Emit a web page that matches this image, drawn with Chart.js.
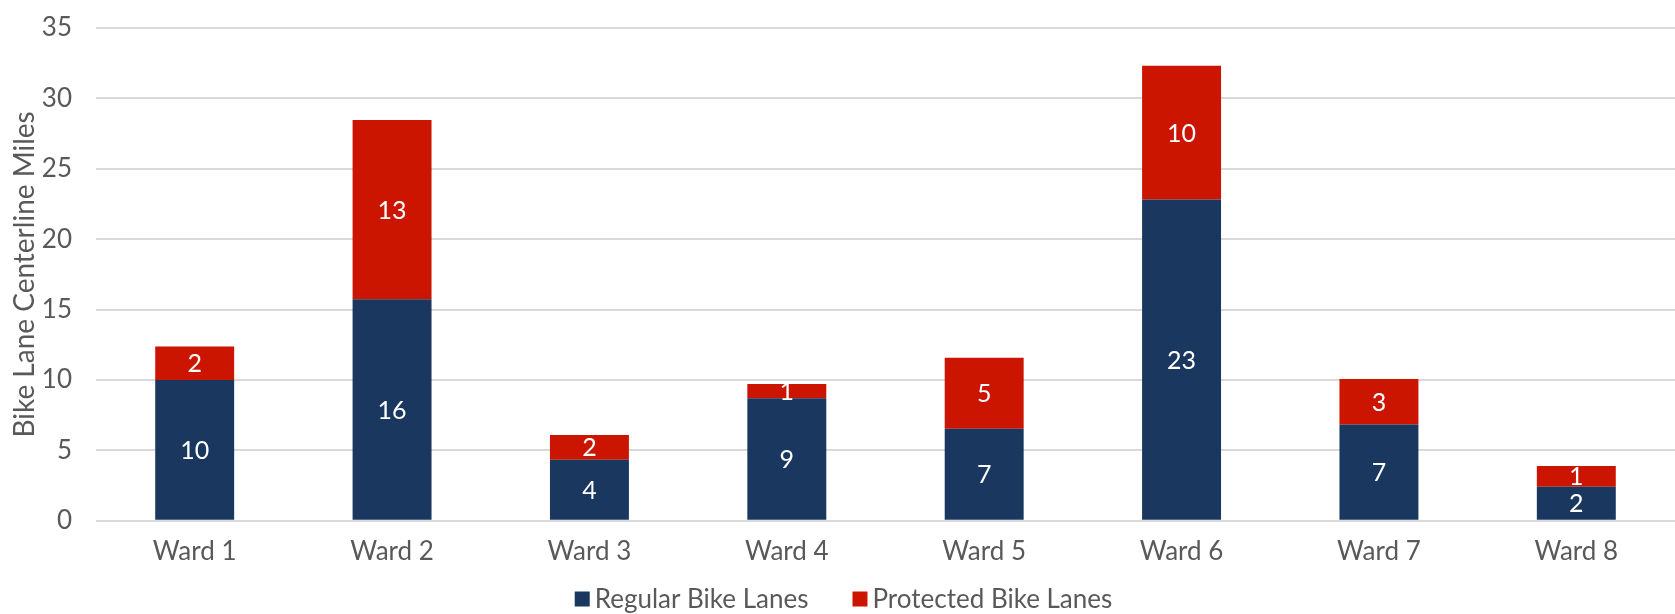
<!DOCTYPE html>
<html>
<head>
<meta charset="utf-8">
<script src="https://cdn.jsdelivr.net/npm/chart.js@4"></script>
<style>
  html, body { margin: 0; padding: 0; background: #fff; }
  #wrap { width: 1675px; height: 614px; }
</style>
</head>
<body>
<div id="wrap"><canvas id="myChart"></canvas></div>
<script>
const wards = ["Ward 1", "Ward 2", "Ward 3", "Ward 4", "Ward 5", "Ward 6", "Ward 7", "Ward 8"];
const regularMiles = [10.0, 15.73, 4.33, 8.71, 6.53, 22.82, 6.84, 2.42];
const protectedMiles = [2.38, 12.74, 1.77, 1.0, 5.05, 9.5, 3.23, 1.48];
const yTicks = [0, 5, 10, 15, 20, 25, 30, 35];

const textGray = "#595959";
const fontFamily = "Lato, 'Noto Sans', sans-serif";

// white rounded numbers centred in each bar segment
const segmentLabels = {
    id: "segmentLabels",
    afterDatasetsDraw(chart) {
        const ctx = chart.ctx;
        ctx.save();
        ctx.fillStyle = "#fff";
        ctx.font = "25px " + fontFamily;
        ctx.textAlign = "center";
        ctx.textBaseline = "middle";
        chart.data.datasets.forEach((ds, i) => {
            chart.getDatasetMeta(i).data.forEach((bar, j) => {
                const mid = (bar.y + bar.base) / 2;
                ctx.fillText(Math.round(ds.data[j]), bar.x, mid + 1);
            });
        });
        ctx.restore();
    }
};

// compact legend under the axis: small square, tight gap, wide gap between items
const bottomLegend = {
    id: "bottomLegend",
    afterDraw(chart) {
        const ctx = chart.ctx;
        const box = 15, gap = 5, itemGap = 44;
        const y = chart.height - 15;
        ctx.save();
        ctx.font = "26px " + fontFamily;
        ctx.textBaseline = "middle";
        const items = chart.data.datasets.map(ds => ({
            text: ds.label,
            color: ds.backgroundColor,
            w: ctx.measureText(ds.label).width
        }));
        const total = items.reduce((s, it) => s + box + gap + it.w, 0) + itemGap * (items.length - 1);
        let x = chart.width / 2 - total / 2 + 6;
        items.forEach(it => {
            ctx.fillStyle = it.color;
            ctx.fillRect(x, y - box / 2, box, box);
            ctx.fillStyle = textGray;
            ctx.fillText(it.text, x + box + gap, y + 1);
            x += box + gap + it.w + itemGap;
        });
        ctx.restore();
    }
};

document.addEventListener("DOMContentLoaded", () => {
    const ctx = document.getElementById("myChart");
    new Chart(ctx, {
        type: "bar",
        data: {
            labels: wards,
            datasets: [{
                label: "Regular Bike Lanes",
                data: regularMiles,
                backgroundColor: "#1a375f"
            }, {
                label: "Protected Bike Lanes",
                data: protectedMiles,
                backgroundColor: "#cc1500"
            }]
        },
        options: {
            responsive: true,
            maintainAspectRatio: false,
            animation: false,
            categoryPercentage: 0.8,
            barPercentage: 0.5,
            layout: {
                autoPadding: false,
                padding: { top: 28, right: 0, left: 8, bottom: 32 }
            },
            plugins: {
                legend: { display: false },
                tooltip: { enabled: false }
            },
            scales: {
                x: {
                    stacked: true,
                    grid: { display: false, drawTicks: false },
                    border: { display: false },
                    ticks: {
                        color: textGray,
                        font: { family: fontFamily, size: 26 },
                        padding: 15
                    }
                },
                y: {
                    stacked: true,
                    min: 0,
                    max: 35,
                    afterBuildTicks: (axis) => { axis.ticks = yTicks.map(v => ({ value: v })); },
                    afterFit: (axis) => {
                        axis.width = 88;
                        axis.paddingTop = 0;
                        axis.paddingBottom = 0;
                    },
                    grid: { color: "#d9d9d9", lineWidth: 2, drawTicks: false },
                    border: { display: false },
                    ticks: {
                        color: textGray,
                        font: { family: fontFamily, size: 26 },
                        padding: 24
                    },
                    title: {
                        display: true,
                        text: "Bike Lane Centerline Miles",
                        color: textGray,
                        font: { family: fontFamily, size: 28 },
                        padding: 0
                    }
                }
            }
        },
        plugins: [segmentLabels, bottomLegend]
    });
});
</script>
</body>
</html>
